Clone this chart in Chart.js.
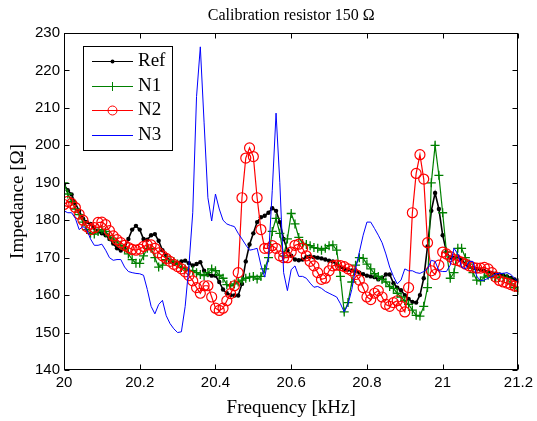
<!DOCTYPE html>
<html><head><meta charset="utf-8">
<script src="https://cdn.jsdelivr.net/npm/chart.js@4.4.0/dist/chart.umd.min.js"></script>
<style>html,body{margin:0;padding:0;background:#fff;}canvas{display:block;}</style>
</head><body>
<canvas id="c" width="537" height="421"></canvas>
<script>
const freq = [
20.00,20.01,20.02,20.03,20.04,20.05,20.06,20.07,20.08,20.09,
20.10,20.11,20.12,20.13,20.14,20.15,20.16,20.17,20.18,20.19,
20.20,20.21,20.22,20.23,20.24,20.25,20.26,20.27,20.28,20.29,
20.30,20.31,20.32,20.33,20.34,20.35,20.36,20.37,20.38,20.39,
20.40,20.41,20.42,20.43,20.44,20.45,20.46,20.47,20.48,20.49,
20.50,20.51,20.52,20.53,20.54,20.55,20.56,20.57,20.58,20.59,
20.60,20.61,20.62,20.63,20.64,20.65,20.66,20.67,20.68,20.69,
20.70,20.71,20.72,20.73,20.74,20.75,20.76,20.77,20.78,20.79,
20.80,20.81,20.82,20.83,20.84,20.85,20.86,20.87,20.88,20.89,
20.90,20.91,20.92,20.93,20.94,20.95,20.96,20.97,20.98,20.99,
21.00,21.01,21.02,21.03,21.04,21.05,21.06,21.07,21.08,21.09,
21.10,21.11,21.12,21.13,21.14,21.15,21.16,21.17,21.18,21.19,
21.20];

const ref = [
189.5,188,186.9,184.5,182.5,180.5,179.5,179,178,177,
176.5,176,175,173.8,172.5,171.9,172.5,175,177.5,178.5,
177.5,175,174.8,176,176.3,174.5,172,170.5,169,168.3,
168.6,169,169.2,168.5,167.9,168.3,168.8,166.5,165.5,165.2,
165.2,163.5,161.5,160.5,160,159.9,159.9,163,169,173.5,
176.5,179.5,180.8,181.2,182,183.2,182.5,179.5,175,172,
170.5,169.5,169.3,169.5,170.2,170.3,170.1,170,169.8,169.5,
169.2,169,168.2,167.5,167,166.8,166.6,166.5,166,165.6,
165.2,165,164.8,164.2,164.5,165.5,165.5,163.2,162,161.3,
160,159,158.2,158,160,164.5,173,182.5,187.3,183,
176,171.5,170,170,170.3,169.5,168.3,167.6,167.2,167,
166.8,166.5,166.2,165.9,165.7,165.5,165.3,165,164.6,164.2,
163.9];

const n1 = [
190,187,185,183,181.5,179.5,177.5,176.5,176.3,177,
177.5,177,175.8,175,174.2,173.3,172.3,171,169.5,168.5,
168.5,170.5,172.5,172.5,170,167.5,168,169.5,169.5,169,
168.3,167.4,167,166.6,166.5,166,165.5,165.2,166,167,
166.5,165.3,164.5,162.8,162.5,163,163.5,164,164.5,164.8,
165,164.3,165,167,170,177,180.5,176.5,170.5,175,
181.8,179,175.4,173.8,173.5,173.2,172.7,172.5,172,172.5,
173.2,173.4,172,165,155.5,158,163.5,168,170,169.8,
168.3,167,165.7,165,164.2,163.5,162.3,161.8,160.5,159.5,
158.5,157.5,156,154.6,154.4,157,162,190,200,192,
182,171.5,164.5,166,172.5,172.5,170,168.3,166,164,
163.8,164.8,165.3,165,164.7,164.7,164.8,164.5,163,162,
161.2];

const n2 = [
184.2,185,184.5,183.4,181.6,180,178.3,177.5,178,179.4,
179.5,178.8,177.2,175.8,174.8,174,173.3,172.7,172.2,172,
172.3,173,173.4,173.4,172.5,171.3,170.5,169.8,169,168.2,
167.6,167,166.2,165.2,163.8,162,160.5,162.5,162.5,159.5,
156.5,155.9,156.5,158.5,160.4,162.5,166,186,196.6,199.3,
197,186,177.5,172.5,172.5,173.2,172.5,170.5,170,170,
171.5,173.3,173.6,172.5,170.5,169,167.8,166,164.2,164.5,
166.5,167.8,168,167.9,167.6,167,166.5,165.5,164,162,
159.5,158.8,160.5,161.2,159.5,157.5,157,158,158.5,157,
155.5,162,182,192.5,197.5,191,174,166.5,165.5,168,
171.5,171,170.3,169.5,169.2,168.8,168.3,167.8,167.4,167.2,
167.2,167.4,167,166,164.8,163.9,163.5,163.2,162.8,162.4,
162.3];

const n3 = [
182.5,182,182,180.5,177.5,178.3,177.5,175,173.3,173.3,
173.6,172,170,169.3,169.5,169.5,167.5,166.3,166,165.8,
165.7,165.3,161.5,157,155,157.5,158.6,154.5,152.4,151,
150,150.2,157,168,182,213,226.3,206,186,179.8,
187,183,180,179,178.6,178.3,176.5,175,173.4,172,
172.2,172.5,168,164.8,170,188,208.6,190,166,161.2,
166.8,167.8,165,165,164.5,163.2,162.1,162.3,161.8,161,
160.5,160,159.5,157.7,155.5,157.5,161.5,167,171.5,176,
179.5,179.5,177.8,176,174,171,167.5,165,163,164,
167,166.5,166.5,166,165.8,166.3,167,169.3,169,166.5,
166.3,166.3,168,172.5,171,167.5,167,169,169,165,
163.9,164,164.5,165,165.7,165.8,165.8,166,165.5,164.5,
163.5];

const xTicks = [20, 20.2, 20.4, 20.6, 20.8, 21, 21.2];
const yTicks = [140, 150, 160, 170, 180, 190, 200, 210, 220, 230];
const seriesNames = ['Ref', 'N1', 'N2', 'N3'];
const titleText = 'Calibration resistor 150 \u03A9';
const xTitle = 'Frequency [kHz]';
const yTitle = 'Impedance [\u03A9]';

const pts = arr => freq.map((f, i) => ({x: f, y: arr[i]}));

const styles = [
  {color:'#000000', marker:'dot'},
  {color:'#008000', marker:'plus'},
  {color:'#ff0000', marker:'circle'},
  {color:'#0000ff', marker:'none'}
];

const framePlugin = {
  id: 'frame',
  afterDatasetsDraw(chart) {
    const {ctx, chartArea, scales} = chart;
    const L = Math.round(chartArea.left) + 0.5, R = Math.round(chartArea.right) - 0.5;
    const T = Math.round(chartArea.top) + 0.5, B = Math.round(chartArea.bottom) - 0.5;
    ctx.save();
    ctx.strokeStyle = '#000'; ctx.lineWidth = 1;
    ctx.strokeRect(L, T, R - L, B - T);
    const tl = 5;
    ctx.beginPath();
    xTicks.forEach(v => {
      const px = Math.round(scales.x.getPixelForValue(v)) + 0.5;
      ctx.moveTo(px, B); ctx.lineTo(px, B - tl);
      ctx.moveTo(px, T); ctx.lineTo(px, T + tl);
    });
    yTicks.forEach(v => {
      const py = Math.round(scales.y.getPixelForValue(v)) + 0.5;
      ctx.moveTo(L, py); ctx.lineTo(L + tl, py);
      ctx.moveTo(R, py); ctx.lineTo(R - tl, py);
    });
    ctx.stroke();

    // legend box
    const bx = 83.5, by = 46.5, bw = 89, bh = 104;
    ctx.fillStyle = '#fff';
    ctx.fillRect(bx, by, bw, bh);
    ctx.strokeRect(bx, by, bw, bh);
    ctx.font = '19px "Liberation Serif"';
    ctx.textBaseline = 'middle';
    ctx.textAlign = 'left';
    seriesNames.forEach((name, i) => {
      const y = Math.round(61 + i * 24.7) + 0.5;
      const st = styles[i];
      ctx.strokeStyle = st.color; ctx.fillStyle = st.color; ctx.lineWidth = 1;
      ctx.beginPath(); ctx.moveTo(92, y); ctx.lineTo(133, y); ctx.stroke();
      const mx = 112.5;
      if (st.marker === 'dot') {
        ctx.beginPath(); ctx.arc(mx, y, 2, 0, Math.PI * 2); ctx.fill();
      } else if (st.marker === 'plus') {
        ctx.beginPath(); ctx.moveTo(mx - 4.5, y); ctx.lineTo(mx + 4.5, y);
        ctx.moveTo(mx, y - 4.5); ctx.lineTo(mx, y + 4.5); ctx.stroke();
      } else if (st.marker === 'circle') {
        ctx.beginPath(); ctx.arc(mx, y, 4.5, 0, Math.PI * 2); ctx.stroke();
      }
      ctx.fillStyle = '#000';
      ctx.fillText(name, 138, y);
    });
    ctx.restore();
  }
};

new Chart(document.getElementById('c'), {
  type: 'line',
  data: {
    datasets: [
      {label: seriesNames[0], data: pts(ref), borderColor: '#000000', borderWidth: 1.6,
       pointStyle: 'circle', pointRadius: 2.2, pointBackgroundColor: '#000000', pointBorderColor: '#000000', pointBorderWidth: 0, order: 4},
      {label: seriesNames[1], data: pts(n1), borderColor: '#008000', borderWidth: 1.2,
       pointStyle: 'cross', pointRadius: 4.5, pointBorderColor: '#008000', pointBackgroundColor: '#008000', pointBorderWidth: 1.3, order: 3},
      {label: seriesNames[2], data: pts(n2), borderColor: '#ff0000', borderWidth: 1.2,
       pointStyle: 'circle', pointRadius: 5, pointBorderColor: '#ff0000', pointBackgroundColor: 'rgba(0,0,0,0)', pointBorderWidth: 1.2, order: 2},
      {label: seriesNames[3], data: pts(n3), borderColor: '#0000ff', borderWidth: 1,
       pointRadius: 0, order: 1}
    ]
  },
  options: {
    responsive: false,
    devicePixelRatio: 1,
    animation: false,
    events: [],
    layout: {padding: {left: 0, right: 16, top: 0, bottom: 0}},
    elements: {line: {tension: 0}},
    plugins: {
      legend: {display: false},
      tooltip: {enabled: false},
      title: {display: true, text: titleText, fullSize: false, color: '#000',
              font: {family: 'Liberation Serif', size: 16, weight: 'normal'},
              padding: {top: 6, bottom: 7.8}}
    },
    scales: {
      x: {
        type: 'linear', min: 20, max: 21.2,
        afterBuildTicks: s => { s.ticks = xTicks.map(v => ({value: v})); },
        afterFit: s => { s.height = 51; },
        grid: {display: false, drawTicks: false},
        border: {display: false},
        ticks: {color: '#000', font: {family: 'Liberation Sans', size: 15}, padding: 4,
                maxRotation: 0, autoSkip: false, callback: v => String(v)},
        title: {display: true, text: xTitle, color: '#000',
                font: {family: 'Liberation Serif', size: 19}, padding: {top: 0, bottom: 2}}
      },
      y: {
        type: 'linear', min: 140, max: 230,
        afterBuildTicks: s => { s.ticks = yTicks.map(v => ({value: v})); },
        afterFit: s => { s.width = 64; },
        grid: {display: false, drawTicks: false},
        border: {display: false},
        ticks: {color: '#000', font: {family: 'Liberation Sans', size: 15}, padding: 4,
                autoSkip: false, callback: v => String(v)},
        title: {display: true, text: yTitle, color: '#000',
                font: {family: 'Liberation Serif', size: 19}, padding: {top: 7, bottom: 0}}
      }
    }
  },
  plugins: [framePlugin]
});
</script>
</body></html>
